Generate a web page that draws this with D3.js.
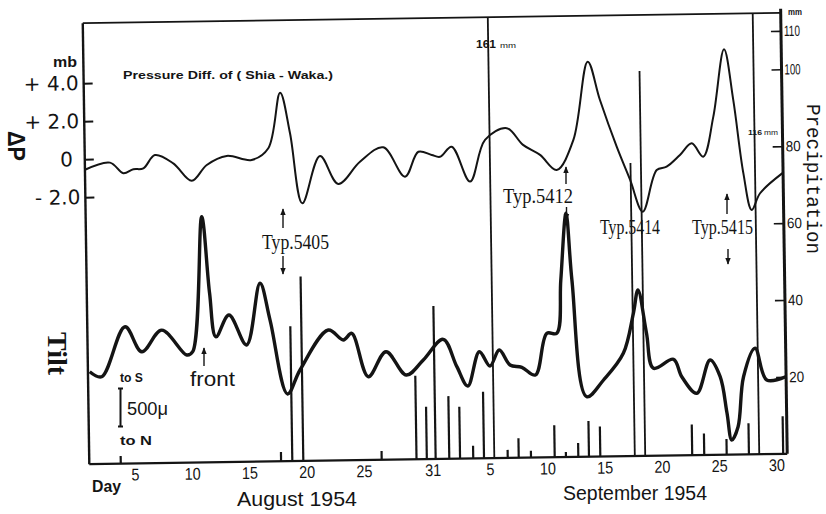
<!DOCTYPE html>
<html><head><meta charset="utf-8">
<script src="https://cdn.jsdelivr.net/npm/d3@7"></script>
<style>body{margin:0;background:#fff}svg{display:block}</style>
</head><body>
<svg id="c" width="826" height="514"></svg>
<script>
// ---------- data ----------
// day index: Aug n -> n, Sep n -> 31 + n
const pressureDays = [1.0, 3.24, 4.39, 5.27, 6.14, 7.17, 8.76, 10.35, 11.68, 13.43, 15.6, 17.07, 18.17, 18.98, 19.97, 21.57, 23.13, 25.05, 27.1, 28.96, 30.16, 31.32, 32.04, 33.07, 34.63, 35.99, 37.9, 39.3, 40.77, 42.2, 43.7, 45.05, 46.07, 47.47, 48.6, 49.66, 50.93, 51.8, 52.98, 54.02, 55.0, 55.94, 56.96, 57.7, 58.49, 59.17, 59.92, 61.9];
const pressureDiff = [-0.57, -0.2, -0.77, -0.57, -0.53, 0.16, -0.29, -1.22, -0.4, 0.06, -0.17, 0.43, 3.35, 1.22, -2.49, -0.02, -1.5, -0.35, 0.39, -1.17, 0.13, -0.05, -0.15, 0.37, -1.48, 0.7, 1.3, 0.41, -0.13, -0.94, 0.63, 4.74, 2.71, 0.24, -1.52, -3.2, -1.02, -0.85, -0.24, 0.36, -0.35, 1.75, 5.28, 2.61, -1.26, -3.19, -2.32, -1.28];

const tiltDays = [1.2, 2.24, 4.34, 5.77, 7.53, 9.69, 10.21, 11.17, 11.76, 12.26, 13.42, 14.92, 16.17, 17.0, 18.43, 19.55, 22.07, 23.37, 24.11, 25.5, 27.08, 28.82, 30.32, 32.08, 33.24, 34.17, 35.22, 36.13, 36.96, 37.88, 38.91, 40.08, 41.13, 42.0, 42.42, 42.96, 43.39, 44.53, 46.02, 47.78, 48.71, 49.14, 49.83, 50.39, 52.15, 52.85, 54.14, 55.34, 56.2, 56.75, 57.13, 57.7, 58.24, 59.28, 60.26, 61.9];
const tiltMicron = [172, 105, 742, 418, 692, 368, 409, 2138, 1154, 596, 872, 485, 1273, 800, -151, 154, 661, 531, 614, 55, 372, 69, 259, 520, 167, -83, 354, 169, 372, 178, 146, 45, 577, 576, 1258, 2112, 1256, -243, -32, 306, 818, 1115, 559, 109, 220, -5, -220, 204, -12, -479, -826, -656, -17, 346, -63, -24];

const precipDays = [3.79, 17.78, 18.76, 19.72, 26.56, 29.6, 30.5, 31.27, 32.46, 33.4, 34.55, 35.49, 36.39, 37.56, 38.52, 39.59, 41.66, 42.64, 43.72, 44.65, 45.64, 48.65, 49.56, 53.66, 54.71, 56.67, 58.61, 59.51, 61.6];
const precipMM = [2.0, 2.4, 35.1, 48.0, 2.3, 21.7, 13.6, 39.8, 16.3, 13.5, 3.3, 17.3, 161, 2.1, 5.1, 1.8, 8.3, 1.3, 3.6, 9.3, 7.8, 76.2, 100.1, 8.0, 5.6, 4.1, 8.1, 116, 9.8];

const dayTicks = [5, 10, 15, 20, 25, 31, 36, 41, 46, 51, 56, 61];
const dayTickLabels = ["5", "10", "15", "20", "25", "31", "5", "10", "15", "20", "25", "30"];
const pressureTicks = [4, 2, 0, -2];
const pressureTickLabels = ["+ 4.0", "+ 2.0", "0", "- 2.0"];
const precipTicks = [110, 100, 80, 60, 40, 20];

// ---------- layout ----------
const W = 826, H = 514;
const L = 86, R = 784, T = 18, B = 459;
const CX = 434.75, CY = 238.5, SKEW = -0.85;   // scan skew of the paper
const INK = "#141414";

const svg = d3.select("#c");
svg.append("rect").attr("width", W).attr("height", H).attr("fill", "#fff");
const defs = svg.append("defs");
defs.append("clipPath").attr("id", "plot").append("rect")
  .attr("x", L).attr("y", T).attr("width", R - L).attr("height", B - T);
defs.append("marker").attr("id", "ah").attr("viewBox", "0 0 10 10")
  .attr("refX", 9).attr("refY", 5).attr("markerWidth", 5).attr("markerHeight", 5)
  .attr("orient", "auto").append("path").attr("d", "M0,1 L10,5 L0,9 Z").attr("fill", INK);

const g = svg.append("g").attr("transform", `rotate(${SKEW},${CX},${CY})`);

const x = d3.scaleLinear().domain([1, 61.9]).range([85.5, 783.4]);
const yP = d3.scaleLinear().domain([0, 110]).range([B, 36]);
const yD = d3.scaleLinear().domain([-2, 4]).range([192, 78]);
const yT = d3.scaleLinear().domain([0, 500]).range([380, 341]);

// precipitation bars
const bars = precipDays.map((d, i) => ({ d, v: precipMM[i] }));
g.append("g").attr("clip-path", "url(#plot)").selectAll("line").data(bars).join("line")
  .attr("x1", d => x(d.d)).attr("x2", d => x(d.d))
  .attr("y1", yP(0)).attr("y2", d => yP(d.v))
  .attr("stroke", INK).attr("stroke-width", d => d.v > 60 ? 1.8 : 2.2);

// curves
const crv = d3.curveCatmullRom.alpha(0.5);
const pData = pressureDays.map((d, i) => [d, pressureDiff[i]]);
const tData = tiltDays.map((d, i) => [d, tiltMicron[i]]);
g.append("path").datum(pData)
  .attr("d", d3.line().x(d => x(d[0])).y(d => yD(d[1])).curve(crv))
  .attr("fill", "none").attr("stroke", INK).attr("stroke-width", 2)
  .attr("stroke-linejoin", "round");
g.append("path").datum(tData)
  .attr("d", d3.line().x(d => x(d[0])).y(d => yT(d[1])).curve(crv))
  .attr("fill", "none").attr("stroke", INK).attr("stroke-width", 3.4)
  .attr("stroke-linejoin", "round");

// frame
g.append("line").attr("x1", L).attr("x2", R).attr("y1", T).attr("y2", T).attr("stroke", INK).attr("stroke-width", 1.7);
g.append("line").attr("x1", L).attr("x2", R).attr("y1", B).attr("y2", B).attr("stroke", INK).attr("stroke-width", 2.2);
g.append("line").attr("x1", L).attr("x2", L).attr("y1", T).attr("y2", B).attr("stroke", INK).attr("stroke-width", 2.4);
g.append("line").attr("x1", R).attr("x2", R).attr("y1", T - 4).attr("y2", B).attr("stroke", INK).attr("stroke-width", 3);

// axes
const axL = g.append("g").attr("transform", `translate(${L},0)`)
  .call(d3.axisLeft(yD).tickValues(pressureTicks).tickSizeInner(-9).tickSizeOuter(0).tickPadding(5)
    .tickFormat((d, i) => pressureTickLabels[i]));
axL.select(".domain").remove();
axL.selectAll("line").attr("stroke", INK).attr("stroke-width", 2);
axL.selectAll("text").attr("font-family", "DejaVu Sans, sans-serif").attr("font-size", 20).attr("fill", INK)
  .attr("x", d => d === 0 ? -12 : -5);

const axR = g.append("g").attr("transform", `translate(${R},0)`)
  .call(d3.axisRight(yP).tickValues(precipTicks).tickSizeInner(-10).tickSizeOuter(0).tickPadding(3));
axR.select(".domain").remove();
axR.selectAll("line").attr("stroke", INK).attr("stroke-width", 1.6);
axR.selectAll("text").attr("font-family", "Liberation Sans, Arial, sans-serif").attr("font-size", 15).attr("fill", INK)
  .attr("textLength", d => d >= 100 ? 16 : 15).attr("lengthAdjust", "spacingAndGlyphs");

const axB = g.append("g").attr("transform", `translate(0,${B})`)
  .call(d3.axisBottom(x).tickValues(dayTicks).tickSize(0).tickPadding(5)
    .tickFormat((d, i) => dayTickLabels[i]));
axB.select(".domain").remove();
axB.selectAll("text").attr("font-family", "Liberation Sans, Arial, sans-serif").attr("font-size", 17).attr("fill", INK)
  .attr("textLength", (d, i) => dayTickLabels[i].length * 8).attr("lengthAdjust", "spacingAndGlyphs");

// ---------- annotations (page coordinates) ----------
const txt = (s, px, py, opts = {}) => {
  const t = svg.append("text").attr("x", px).attr("y", py).text(s)
    .attr("fill", INK)
    .attr("font-family", opts.family || "Liberation Sans, Arial, sans-serif")
    .attr("font-size", opts.size || 12)
    .attr("font-weight", opts.weight || "normal");
  if (opts.len) t.attr("textLength", opts.len).attr("lengthAdjust", "spacingAndGlyphs");
  if (opts.rot) t.attr("transform", `rotate(90,${px},${py})`);
  if (opts.anchor) t.attr("text-anchor", opts.anchor);
  return t;
};
const arrow = (x1, y1, x2, y2) => svg.append("line").attr("x1", x1).attr("y1", y1).attr("x2", x2).attr("y2", y2)
  .attr("stroke", INK).attr("stroke-width", 1.4).attr("marker-end", "url(#ah)");

txt("Pressure Diff. of ( Shia - Waka.)", 123, 79, { size: 11.5, weight: "bold", len: 210 });
txt("mb", 53, 67, { size: 14, weight: "bold", len: 24 });
txt("ΔP", 8, 131, { size: 24, weight: "bold", rot: true, len: 30 });
txt("Tilt", 48, 332, { size: 28, weight: "bold", family: "Liberation Serif, serif", rot: true, len: 43 });
txt("Precipitation", 807, 104, { size: 19.5, family: "Liberation Mono, monospace", rot: true, len: 150 });
txt("mm", 788, 15, { size: 9, weight: "bold", len: 14 });
txt("161", 476, 48, { size: 10, weight: "bold", len: 20 });
txt("mm", 500, 48, { size: 8, len: 16 });
txt("116", 748, 135, { size: 8, weight: "bold", len: 14 });
txt("mm", 764, 135, { size: 6.5, len: 14 });

txt("Day", 92, 492, { size: 17, weight: "bold", len: 29 });
txt("August 1954", 237, 506, { size: 21, len: 120 });
txt("September 1954", 563, 500, { size: 20, len: 144 });

txt("to S", 120, 382, { size: 13, weight: "bold", len: 23 });
txt("500μ", 127, 415, { size: 18, len: 41 });
txt("to N", 120, 445, { size: 13, weight: "bold", len: 32 });
svg.append("path").attr("d", "M118,388.5H123M120.5,388.5V426.5M118,426.5H123")
  .attr("stroke", INK).attr("stroke-width", 2).attr("fill", "none");

txt("front", 190, 386, { size: 20, len: 45 });
arrow(204, 366, 204, 348);

const serif = "Liberation Serif, serif";
txt("Typ.5405", 262, 249, { size: 22, family: serif, len: 67 });
arrow(283, 228, 283, 209);
arrow(283, 256, 283, 274);
txt("Typ.5412", 503, 203, { size: 22, family: serif, len: 70 });
arrow(566, 184, 566, 167);
arrow(566.5, 207, 566.5, 220);
txt("Typ.5414", 600, 234, { size: 22, family: serif, len: 60 });
txt("Typ.5415", 692, 234, { size: 22, family: serif, len: 61 });
arrow(727, 214, 727, 194);
arrow(728, 249, 728, 264);
</script>
</body></html>
